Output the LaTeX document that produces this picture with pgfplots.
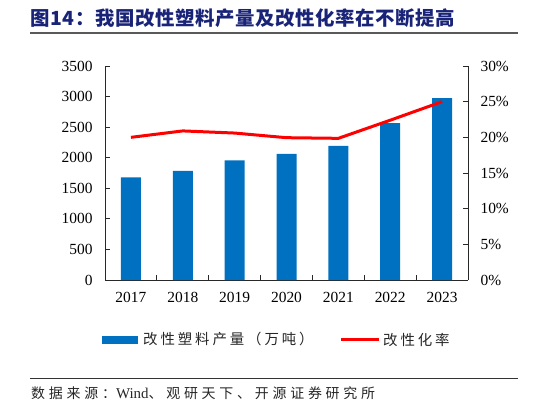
\documentclass[border=0pt]{standalone}
\usepackage{fontspec}
\setmainfont{Liberation Serif}
\newfontfamily\cjk{Noto Sans CJK SC}
\newfontfamily\cjktitle{Noto Sans CJK SC}[LetterSpace=3]
\newfontfamily\cjkls{Noto Sans CJK SC}[LetterSpace=20]
\newfontfamily\cjkfoot{Noto Sans CJK SC}[LetterSpace=27]
\usepackage{pgfplots}
\usepackage{pgfplotstable}
\pgfplotsset{compat=1.18}
\definecolor{barblue}{HTML}{0070C0}
\definecolor{titleblue}{RGB}{25,35,120}
\definecolor{axgray}{RGB}{40,40,40}

\pgfplotstableread{
x prod
0 1680
1 1783
2 1958
3 2062
4 2193
5 2564
6 2973
}\prodtable
\pgfplotstableread{
x rate
0 20.0
1 20.9
2 20.6
3 19.95
4 19.86
5 22.4
6 25.0
}\ratetable

\begin{document}
\begin{tikzpicture}[x=1bp,y=1bp]
\useasboundingbox (0,0) rectangle (546,408);
% title
\node[anchor=west, inner sep=0pt, text=titleblue] at (30,390)
  {\cjktitle\bfseries\fontsize{19.5}{19.5}\selectfont 图14：我国改性塑料产量及改性化率在不断提高};
\draw[color=black!65, line width=1.2bp] (30,375) -- (518,375);
% footer
\draw[color=black!80, line width=1bp] (30,30) -- (518,30);
\node[anchor=west, inner sep=0pt, text=black!85] at (31,15)
  {\cjkfoot\fontsize{14}{14}\selectfont 数据来源：{\fontspec{Liberation Serif}\fontsize{15}{15}\selectfont Wind}、观研天下、开源证券研究所};

\begin{axis}[
  at={(105bp,128bp)}, anchor=south west,
  scale only axis, width=363bp, height=214bp,
  xmin=-0.5, xmax=6.5, ymin=0, ymax=3500,
  axis x line*=bottom, axis y line*=left,
  axis line style={-, color=axgray, line width=0.9bp},
  xtick={0,...,6},
  xticklabels={2017,2018,2019,2020,2021,2022,2023},
  minor xtick={0.5,1.5,...,5.5},
  ytick={0,500,...,3500},
  tick align=inside,
  major tick length=5bp, minor tick length=5bp,
  x tick style={draw=none},
  minor x tick style={draw=axgray, line width=0.8bp},
  y tick style={draw=axgray, line width=0.8bp},
  ticklabel style={font=\fontsize{15.5}{15.5}\selectfont, text=black},
  yticklabel style={xshift=-9bp},
  xticklabel style={yshift=-9bp},
  /pgf/number format/assume math mode=true,
  /pgf/number format/1000 sep={},
  clip=false,
]
\addplot[ybar, bar width=20bp, fill=barblue, draw=none] table[x=x,y=prod] {\prodtable};
\end{axis}

\begin{axis}[
  at={(105bp,128bp)}, anchor=south west,
  scale only axis, width=363bp, height=214bp,
  xmin=-0.5, xmax=6.5, ymin=0, ymax=30,
  axis x line=none, axis y line*=right,
  axis line style={-, color=axgray, line width=0.9bp},
  ytick={0,5,...,30},
  yticklabel={\pgfmathprintnumber{\tick}\%},
  yticklabel style={anchor=west, xshift=9bp},
  tick align=inside,
  major tick length=5bp,
  y tick style={draw=axgray, line width=0.8bp},
  ticklabel style={font=\fontsize{15.5}{15.5}\selectfont, text=black},
  /pgf/number format/assume math mode=true,
]
\addplot[color=red, line width=3bp, line join=round] table[x=x,y=rate] {\ratetable};
\end{axis}

% legend
\fill[barblue] (102,64.5) rectangle (138,72.5);
\node[anchor=west, inner sep=0pt, text=black!85] at (143,68.5)
  {\cjkls\fontsize{14.5}{14.5}\selectfont 改性塑料产量（万吨）};
\draw[red, line width=3bp] (341,69) -- (379,69);
\node[anchor=west, inner sep=0pt, text=black!85] at (383,68.5)
  {\cjkls\fontsize{14.5}{14.5}\selectfont 改性化率};
\end{tikzpicture}
\end{document}
